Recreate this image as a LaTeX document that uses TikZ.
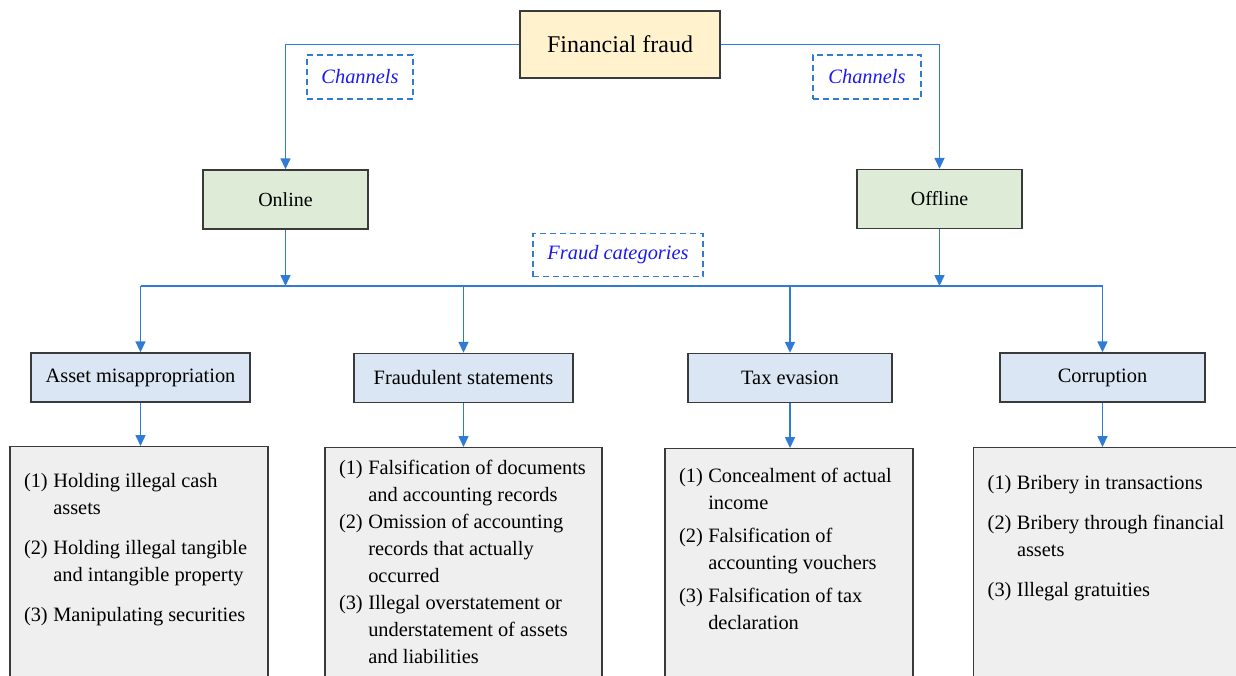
\documentclass[tikz,border=0pt]{standalone}
\usepackage{fontspec}
\setmainfont{Liberation Serif}
\usetikzlibrary{positioning, arrows.meta, calc}

\definecolor{fraudyellow}{HTML}{FFF2CC}
\definecolor{chgreen}{HTML}{DDEBD7}
\definecolor{catblue}{HTML}{DAE6F3}
\definecolor{itemgray}{HTML}{EFEFEF}
\definecolor{linkblue}{HTML}{2F7BD6}
\definecolor{boxedge}{HTML}{3A3A3A}
\definecolor{tagblue}{HTML}{1A1AF0}

\tikzset{
  root/.style={rectangle, draw=boxedge, line width=1.4pt, fill=fraudyellow, minimum width=200pt, minimum height=67pt, font=\fontsize{24}{28}\selectfont},
  channel/.style={rectangle, draw=boxedge, line width=1.4pt, fill=chgreen, minimum width=165pt, minimum height=59pt, font=\fontsize{20}{24}\selectfont},
  category/.style={rectangle, draw=boxedge, line width=1.4pt, fill=catblue, minimum height=49pt, font=\fontsize{20.4}{24}\selectfont},
  detail/.style={rectangle, draw=boxedge, line width=1.4pt, fill=itemgray, anchor=north, inner xsep=14pt, inner ysep=#1, font=\fontsize{20.4}{27}\selectfont},
  tag/.style={rectangle, draw=linkblue, line width=1.5pt, dash pattern=on 6pt off 4pt, text=tagblue, font=\fontsize{20.4}{24}\selectfont\itshape},
  link/.style={linkblue, line width=1.6pt},
  arrow/.style={link, -{Triangle[length=11pt, width=10pt]}}
}

\begin{document}
\begin{tikzpicture}[x=1pt, y=-1pt]
    \useasboundingbox (0,0) rectangle (1236,675);

    % 1. Raiz y canales
    \node[root] (root) at (620,44.5) {Financial fraud};
    \node[channel] (online) at (285.5,199.5) {Online};
    \node[channel] (offline) at (939.5,199) {Offline};
    \node[tag, minimum width=106pt, minimum height=44pt] (chleft) at (360,77) {Channels};
    \node[tag, minimum width=108pt, minimum height=44pt] (chright) at (867,77) {Channels};

    \draw[arrow] (root.west) -| (online.north);
    \draw[arrow] (root.east) -| (offline.north);

    % 2. Categorias
    \node[tag, minimum width=170pt, minimum height=43pt] (cattag) at (618,255) {Fraud categories};
    \node[category, minimum width=219pt] (asset) at (140.5,377.5) {Asset misappropriation};
    \node[category, minimum width=219pt] (statements) at (463.5,378) {Fraudulent statements};
    \node[category, minimum width=204pt] (tax) at (790,378) {Tax evasion};
    \node[category, minimum width=205pt] (corruption) at (1102.5,377.5) {Corruption};

    \coordinate (bus) at (620,286);
    \draw[arrow] (online.south) -- (online.south |- bus);
    \draw[arrow] (offline.south) -- (offline.south |- bus);
    \draw[link] (asset.north |- bus) -- (corruption.north |- bus);
    \foreach \c in {asset, statements, tax, corruption} {
        \draw[arrow] (\c.north |- bus) -- (\c.north);
    }

    % 3. Detalle de cada categoria
    \node[detail=22pt] (assetitems) at (139,446) {\begin{minipage}[t][240pt][t]{230pt}
      \begin{tabular}[t]{@{}l@{\hspace{5.5pt}}l@{}}
        (1) & Holding illegal cash\\
            & assets\\[13pt]
        (2) & Holding illegal tangible\\
            & and intangible property\\[13pt]
        (3) & Manipulating securities
      \end{tabular}\end{minipage}};

    \node[detail=8pt] (stateitems) at (463.5,447) {\begin{minipage}[t][240pt][t]{249pt}
      \begin{tabular}[t]{@{}l@{\hspace{5.5pt}}l@{}}
        (1) & Falsification of documents\\
            & and accounting records\\
        (2) & Omission of accounting\\
            & records that actually\\
            & occurred\\
        (3) & Illegal overstatement or\\
            & understatement of assets\\
            & and liabilities
      \end{tabular}\end{minipage}};

    \node[detail=15pt] (taxitems) at (789,448) {\begin{minipage}[t][240pt][t]{220pt}
      \begin{tabular}[t]{@{}l@{\hspace{5.5pt}}l@{}}
        (1) & Concealment of actual\\
            & income\\[6pt]
        (2) & Falsification of\\
            & accounting vouchers\\[6pt]
        (3) & Falsification of tax\\
            & declaration
      \end{tabular}\end{minipage}};

    \node[detail=23pt, anchor=north west] (corruptitems) at (973,447) {\begin{minipage}[t][240pt][t]{245pt}
      \begin{tabular}[t]{@{}l@{\hspace{5.5pt}}l@{}}
        (1) & Bribery in transactions\\[13pt]
        (2) & Bribery through financial\\
            & assets\\[13pt]
        (3) & Illegal gratuities
      \end{tabular}\end{minipage}};

    \draw[arrow] (asset.south) -- (asset.south |- assetitems.north);
    \draw[arrow] (statements.south) -- (statements.south |- stateitems.north);
    \draw[arrow] (tax.south) -- (tax.south |- taxitems.north);
    \draw[arrow] (corruption.south) -- (corruption.south |- corruptitems.north);

\end{tikzpicture}
\end{document}
